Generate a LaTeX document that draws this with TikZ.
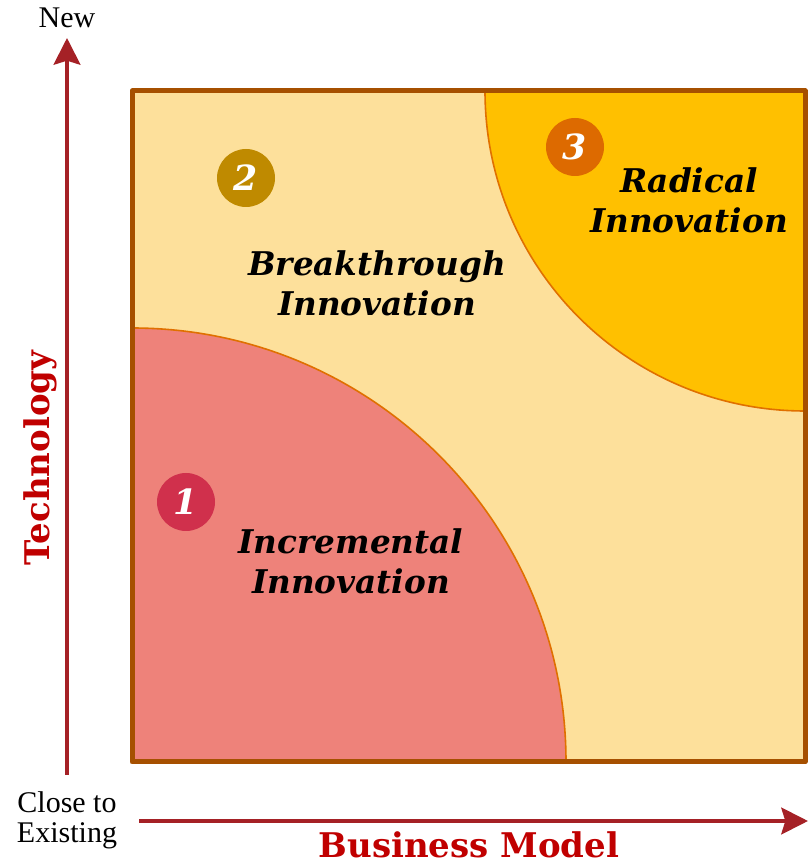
\documentclass[tikz,border=0pt]{standalone}
\usepackage{fontspec}
\setmainfont{Liberation Serif}
\newfontfamily\zonefont{DejaVu Serif}
\usetikzlibrary{arrows.meta}

\definecolor{axisred}{HTML}{A52126}
\definecolor{titlered}{HTML}{C00000}
\definecolor{frameedge}{HTML}{A65000}
\definecolor{framefill}{HTML}{FDE09B}
\definecolor{incfill}{HTML}{EE827A}
\definecolor{radfill}{HTML}{FFC000}
\definecolor{arcedge}{HTML}{E07000}
\definecolor{badgeone}{HTML}{D0304C}
\definecolor{badgetwo}{HTML}{BF8A00}
\definecolor{badgethree}{HTML}{DD6A00}

\begin{document}
\begin{tikzpicture}[x=0.75pt, y=0.75pt,
    badge/.style={circle, minimum size=43.5pt, inner sep=0pt, text=white,
      font=\zonefont\bfseries\itshape\fontsize{26}{26}\selectfont},
    zone/.style={align=center, font=\zonefont\bfseries\itshape\fontsize{24.5}{30}\selectfont},
    axis/.style={line width=3pt, draw=axisred, -{Stealth[length=20pt, width=20pt, inset=3pt]}},
    axisname/.style={text=titlered, font=\zonefont\bfseries\fontsize{25.5}{25.5}\selectfont},
    endname/.style={align=center, font=\fontsize{22.5}{22.5}\selectfont}]

    \useasboundingbox (0,0) rectangle (808,864);

    % Define frame and zones
    \fill[framefill] (132,102) rectangle (805,773);
    \fill[incfill] (132,102) -- (566,102) arc (0:90:434) -- cycle;
    \draw[arcedge, line width=1.2pt] (566,102) arc (0:90:434);
    \fill[radfill] (485,773) arc (180:270:320) -- (805,773) -- cycle;
    \draw[arcedge, line width=1.2pt] (485,773) arc (180:270:320);
    \draw[frameedge, line width=3.75pt, line join=round] (132,102) rectangle (805,773);

    % Define badges and labels
    \node[badge, fill=badgeone] (one) at (186,362) {1};
    \node[badge, fill=badgetwo] (two) at (246,686) {2};
    \node[badge, fill=badgethree] (three) at (575,717) {3};
    \node[zone] (incremental) at (351,303) {Incremental\\Innovation};
    \node[zone] (breakthrough) at (377,581) {Breakthrough\\Innovation};
    \node[zone] (radical) at (689,664) {Radical\\Innovation};

    % Draw axes
    \coordinate (ybase) at (67,89);
    \coordinate (ytip) at (67,826);
    \coordinate (xbase) at (139,43);
    \coordinate (xtip) at (808,43);
    \draw[axis] (ybase) -- (ytip);
    \draw[axis] (xbase) -- (xtip);

    \node[endname] (new) at (67,846) {New};
    \node[endname] (close) at (67,44) {Close to\\Existing};
    \node[axisname, rotate=90] (technology) at (40,406) {Technology};
    \node[axisname] (business) at (469,19) {Business Model};
\end{tikzpicture}
\end{document}
